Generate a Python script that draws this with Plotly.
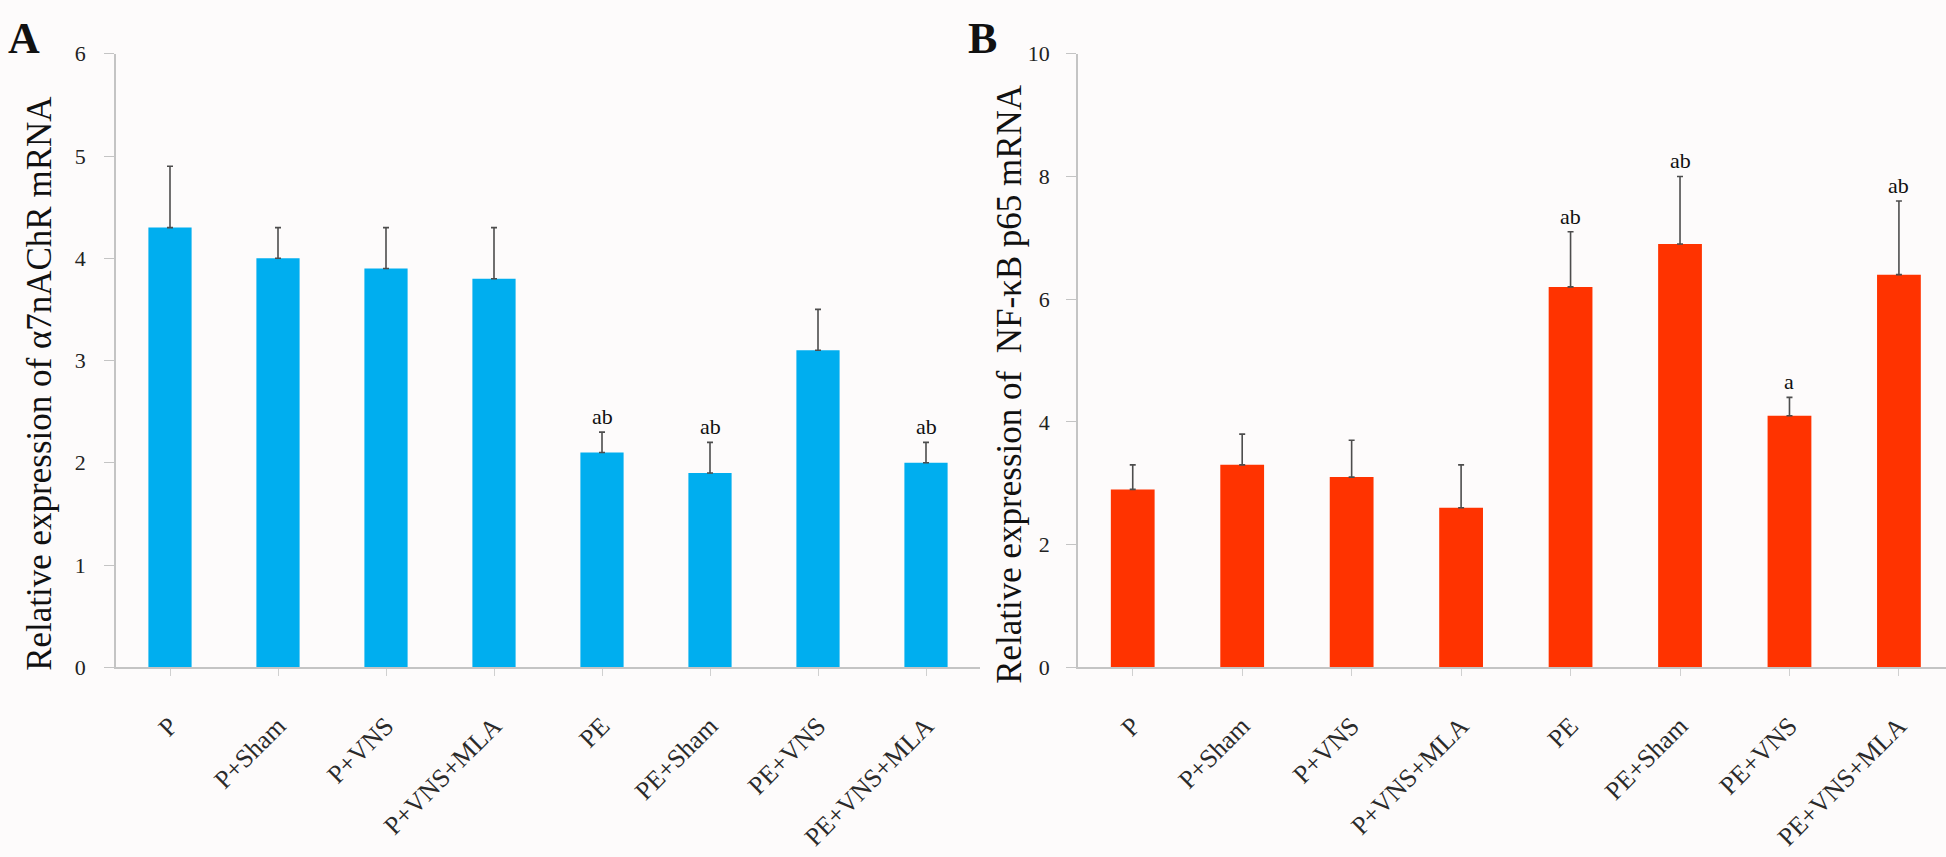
import plotly.graph_objects as go

categories = ["P", "P+Sham", "P+VNS", "P+VNS+MLA", "PE", "PE+Sham", "PE+VNS", "PE+VNS+MLA"]
a_means = [4.3, 4.0, 3.9, 3.8, 2.1, 1.9, 3.1, 2.0]
a_err = [0.6, 0.3, 0.4, 0.5, 0.2, 0.3, 0.4, 0.2]
a_letters = ["", "", "", "", "ab", "ab", "", "ab"]
b_means = [2.9, 3.3, 3.1, 2.6, 6.2, 6.9, 4.1, 6.4]
b_err = [0.4, 0.5, 0.6, 0.7, 0.9, 1.1, 0.3, 1.2]
b_letters = ["", "", "", "", "ab", "ab", "a", "ab"]
a_ticks = [0, 1, 2, 3, 4, 5, 6]
b_ticks = [0, 2, 4, 6, 8, 10]

W, H = 1946, 857
SERIF = "Liberation Serif"
ERR_COLOR = "#4d4d4d"
AXIS_COLOR = "#c4c4c4"

fig = go.Figure()
x_idx = list(range(len(categories)))

fig.add_trace(go.Bar(
    x=x_idx, y=a_means, width=0.4, marker=dict(color="#00AEEF", line=dict(width=0)),
    error_y=dict(type="data", symmetric=False, array=a_err, arrayminus=[0] * len(a_err),
                 color=ERR_COLOR, thickness=1.6, width=3),
    xaxis="x", yaxis="y", showlegend=False))
fig.add_trace(go.Bar(
    x=x_idx, y=b_means, width=0.4, marker=dict(color="#FF3300", line=dict(width=0)),
    error_y=dict(type="data", symmetric=False, array=b_err, arrayminus=[0] * len(b_err),
                 color=ERR_COLOR, thickness=1.6, width=3),
    xaxis="x2", yaxis="y2", showlegend=False))

y_dom = [1 - 675 / H, 1 - 43 / H]
common_x = dict(
    tickmode="array", tickvals=x_idx, ticktext=categories, tickangle=-45,
    tickfont=dict(family=SERIF, size=26, color="#2a2a2a"),
    showline=True, linecolor=AXIS_COLOR, linewidth=2,
    ticks="outside", tickson="boundaries", ticklen=7, tickcolor="#d0d0d0",
    ticklabelstandoff=24,
    showgrid=False, zeroline=False)
common_y = dict(
    tickfont=dict(family=SERIF, size=22, color="#222"),
    showline=True, linecolor=AXIS_COLOR, linewidth=1.5,
    ticks="outside", ticklen=10, tickcolor=AXIS_COLOR,
    showgrid=False, zeroline=False, domain=y_dom)

fig.update_layout(
    width=W, height=H, margin=dict(l=0, r=0, t=0, b=0),
    paper_bgcolor="#fdfbfb", plot_bgcolor="#fdfbfb",
    xaxis=dict(domain=[116 / W, 980 / W], range=[-0.5, 7.5], anchor="y", **common_x),
    yaxis=dict(range=[0, 6], tickvals=a_ticks, anchor="x", ticklabelstandoff=14, **common_y),
    xaxis2=dict(domain=[1078 / W, 1.0], range=[-0.5, 7.43], anchor="y2", **common_x),
    yaxis2=dict(range=[0, 10], tickvals=b_ticks, anchor="x2", ticklabelstandoff=12, **common_y),
)

annotations = []
for i, (m, e, t) in enumerate(zip(a_means, a_err, a_letters)):
    if t:
        annotations.append(dict(x=i, y=m + e, xref="x", yref="y", text=t, showarrow=False,
                                yanchor="bottom", yshift=1,
                                font=dict(family=SERIF, size=22, color="#111")))
for i, (m, e, t) in enumerate(zip(b_means, b_err, b_letters)):
    if t:
        annotations.append(dict(x=i, y=m + e, xref="x2", yref="y2", text=t, showarrow=False,
                                yanchor="bottom", yshift=1,
                                font=dict(family=SERIF, size=22, color="#111")))

annotations += [
    dict(x=6 / W, y=1 - 0 / H, xref="paper", yref="paper", text="<b>A</b>", showarrow=False,
         xanchor="left", yanchor="top", font=dict(family=SERIF, size=44, color="#111")),
    dict(x=966 / W, y=1 - 0 / H, xref="paper", yref="paper", text="<b>B</b>", showarrow=False,
         xanchor="left", yanchor="top", font=dict(family=SERIF, size=44, color="#111")),
    dict(x=40 / W, y=1 - 383 / H, xref="paper", yref="paper",
         text="Relative expression of α7nAChR mRNA", textangle=-90, showarrow=False,
         xanchor="center", yanchor="middle", font=dict(family=SERIF, size=35, color="#111")),
    dict(x=1010 / W, y=1 - 383 / H, xref="paper", yref="paper",
         text="Relative expression of  NF-κB p65 mRNA", textangle=-90, showarrow=False,
         xanchor="center", yanchor="middle", font=dict(family=SERIF, size=35, color="#111")),
]
fig.update_layout(annotations=annotations)

fig.write_html("out.html", config={"displayModeBar": False},
               post_script="document.body.style.margin='0';document.body.style.overflow='hidden';")
